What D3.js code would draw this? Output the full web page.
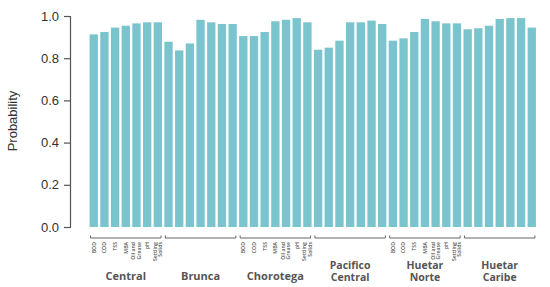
<!DOCTYPE html>
<html lang="en">
<head>
<meta charset="UTF-8">
<title>Probability by region</title>
<script src="https://d3js.org/d3.v7.min.js"></script>
<style>
    body { margin: 0; background: #fff; }
    .tick-lab { font-family: "Open Sans", sans-serif; font-size: 5.2px; fill: #555; font-weight: 600; }
    .grp-lab { font-family: "Open Sans", sans-serif; font-size: 11px; font-weight: 700; fill: #555; }
    .grp-lab2 { font-family: "Open Sans", sans-serif; font-size: 10.5px; font-weight: 700; fill: #555; }
    .yaxis text { font-family: "Liberation Sans", Arial, sans-serif; font-size: 13px; fill: #333; }
</style>
</head>
<body>
<svg width="550" height="287"></svg>
<script>
    // regions and parameters
    const regions = ["Central", "Brunca", "Chorotega", "Pacifico Central", "Huetar Norte", "Huetar Caribe"];
    const params = ["BOD", "COD", "TSS", "MBA", "Oil and Grease", "pH", "Settling Solids"];
    const labelledRegions = ["Central", "Chorotega", "Huetar Norte"];
    const yTicks = [0, 0.2, 0.4, 0.6, 0.8, 1.0];

    // probability values per region, in params order
    const central      = [0.913, 0.924, 0.945, 0.954, 0.965, 0.970, 0.970];
    const brunca       = [0.878, 0.837, 0.870, 0.982, 0.970, 0.962, 0.962];
    const chorotega    = [0.905, 0.905, 0.924, 0.975, 0.982, 0.990, 0.970];
    const pacifico     = [0.840, 0.850, 0.883, 0.970, 0.970, 0.978, 0.962];
    const huetarNorte  = [0.883, 0.894, 0.924, 0.986, 0.975, 0.965, 0.965];
    const huetarCaribe = [0.937, 0.942, 0.954, 0.986, 0.990, 0.990, 0.945];
    const values = [central, brunca, chorotega, pacifico, huetarNorte, huetarCaribe];

    const data = [];
    regions.forEach((r, i) => params.forEach((p, j) => data.push({region: r, param: p, key: r + "|" + p, value: values[i][j]})));

    const svg = d3.select("svg");

    const x = d3.scaleBand()
        .domain(data.map(d => d.key))
        .range([88.5, 537])
        .paddingInner(0.22)
        .paddingOuter(0.1);

    const y = d3.scaleLinear().domain([0, 1]).range([227, 16]);

    // bars
    svg.append("g")
        .selectAll("rect")
        .data(data)
        .enter()
        .append("rect")
        .attr("x", d => x(d.key))
        .attr("width", x.bandwidth())
        .attr("y", d => y(d.value))
        .attr("height", d => y(0) - y(d.value))
        .attr("fill", "#7ac5cd");

    // y axis
    const yAxis = svg.append("g")
        .attr("class", "yaxis")
        .attr("transform", "translate(70,0)")
        .call(d3.axisLeft(y).tickValues(yTicks).tickFormat(d3.format(".1f")).tickSize(6).tickPadding(5));
    yAxis.select(".domain").attr("stroke", "#555").attr("stroke-width", 1.2);
    yAxis.selectAll(".tick line").attr("stroke", "#555").attr("stroke-width", 1.2);

    svg.append("text")
        .attr("transform", "translate(17,121) rotate(-90)")
        .attr("text-anchor", "middle")
        .style("font-family", "'Liberation Sans', Arial, sans-serif")
        .style("font-size", "13px")
        .style("fill", "#333")
        .text("Probability");

    // group brackets and labels
    regions.forEach(r => {
        const x0 = x(r + "|" + params[0]) + 1;
        const x1 = x(r + "|" + params[params.length - 1]) + x.bandwidth() - 1;
        const by = 238;
        svg.append("path")
            .attr("d", `M${x0},${by - 2.5}V${by}H${x1}V${by - 2.5}`)
            .attr("fill", "none")
            .attr("stroke", "#666")
            .attr("stroke-width", 1);

        const cx = (x0 + x1) / 2;
        const words = r.split(" ");
        if (words.length === 1) {
            svg.append("text").attr("class", "grp-lab").attr("text-anchor", "middle")
                .attr("x", cx).attr("y", 280).text(r);
        } else {
            svg.append("text").attr("class", "grp-lab2").attr("text-anchor", "middle")
                .attr("x", cx).attr("y", 269).text(words[0]);
            svg.append("text").attr("class", "grp-lab2").attr("text-anchor", "middle")
                .attr("x", cx).attr("y", 281).text(words[1]);
        }

        if (labelledRegions.includes(r)) {
            params.forEach(p => {
                const px = x(r + "|" + p) + x.bandwidth() / 2;
                const w = p.split(" ");
                const t = svg.append("text")
                    .attr("class", "tick-lab")
                    .attr("text-anchor", "end")
                    .attr("transform", `translate(${px},242) rotate(-90)`);
                if (w.length === 1) {
                    t.attr("dy", "0.35em").text(p);
                } else {
                    const first = w.slice(0, w.length - 1).join(" ");
                    t.append("tspan").attr("x", 0).attr("dy", "-0.2em").text(first);
                    t.append("tspan").attr("x", 0).attr("dy", "1em").text(w[w.length - 1]);
                }
            });
        }
    });
</script>
</body>
</html>
